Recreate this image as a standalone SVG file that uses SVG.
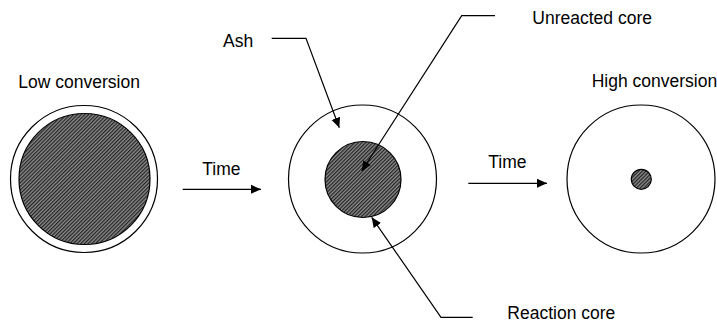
<svg xmlns="http://www.w3.org/2000/svg" width="717" height="322" viewBox="0 0 717 322">
<style>
text{font-family:"Liberation Sans",Arial,sans-serif;font-size:17.5px;fill:#000}
.ring{fill:#fff;stroke:#000;stroke-width:1.2}
.core{fill:url(#hatch);stroke:#000;stroke-width:1.2}
.conn{fill:none;stroke:#000;stroke-width:1.2}
</style>
<defs>
<pattern id="hatch" patternUnits="userSpaceOnUse" width="2.6" height="2.6" patternTransform="rotate(-45)">
<rect width="2.6" height="2.6" fill="#8a8a8a"/>
<rect width="2.6" height="1.2" fill="#222"/>
</pattern>
<marker id="arr" viewBox="0 0 10 10" refX="10" refY="5" markerWidth="10" markerHeight="10" markerUnits="userSpaceOnUse" orient="auto">
<path d="M0,0.5 L10,5 L0,9.5 z" fill="#000"/>
</marker>
</defs>
<g id="low">
<circle class="ring" cx="84" cy="179" r="73.5"/>
<circle class="core" cx="84.5" cy="179" r="65.5"/>
<text x="18.3" y="88.3">Low conversion</text>
</g>
<g id="mid">
<circle class="ring" cx="362.5" cy="179" r="74"/>
<circle class="core" cx="363" cy="179.5" r="38"/>
</g>
<g id="high">
<circle class="ring" cx="641" cy="179" r="74"/>
<circle class="core" cx="641.3" cy="179.3" r="10"/>
<text x="591.7" y="86.7">High conversion</text>
</g>
<g id="labels">
<text x="223" y="46.7">Ash</text>
<text x="532.3" y="24">Unreacted core</text>
<text x="507.3" y="318.5">Reaction core</text>
<text x="202.3" y="175">Time</text>
<text x="488.3" y="168.3">Time</text>
</g>
<g id="connectors">
<path class="conn" d="M182.7,189.3 H261" marker-end="url(#arr)"/>
<path class="conn" d="M468.3,183.3 H547" marker-end="url(#arr)"/>
<path class="conn" d="M271.7,38.3 H306 L339.3,127.7" marker-end="url(#arr)"/>
<path class="conn" d="M495,15.7 H461.7 L361.7,171" marker-end="url(#arr)"/>
<path class="conn" d="M472.7,317.3 H441 L371.7,217.3" marker-end="url(#arr)"/>
</g>
</svg>
